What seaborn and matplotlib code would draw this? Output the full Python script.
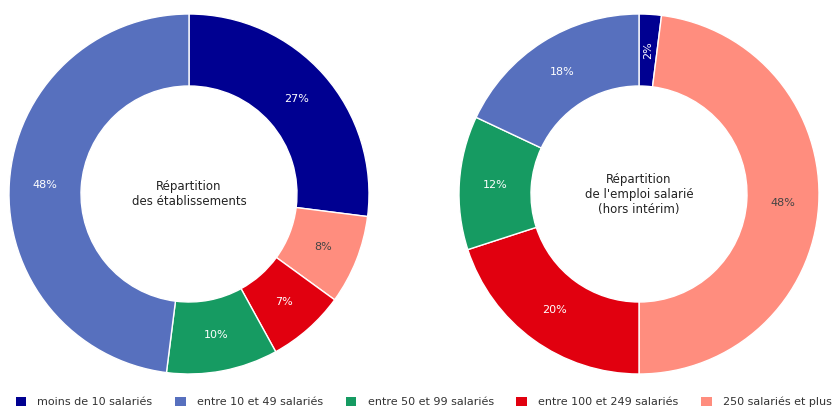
import numpy as np
import pandas as pd

import seaborn as sns
import matplotlib
import matplotlib.pyplot as plt
from matplotlib.patches import Patch

# data
categories = ['moins de 10 salariés', 'entre 10 et 49 salariés', 'entre 50 et 99 salariés',
              'entre 100 et 249 salariés', '250 salariés et plus']
etablissements = [27, 48, 10, 7, 8]
emploi = [2, 18, 12, 20, 48]
titles = ['Répartition\ndes établissements', 'Répartition\nde l\'emploi salarié\n(hors intérim)']

sns.set_style('white')
plt.rcParams['font.family'] = ['DejaVu Sans']

palette = ['#000091', '#5770BE', '#169B62', '#E1000F', '#FF8D7E']
text_colors = ['white', 'white', 'white', 'white', '#444444']

# wedge order clockwise from top: dark blue, salmon, red, green, blue
order = [0, 4, 3, 2, 1]

fig = plt.figure(figsize=(8.34, 4.11), dpi=100)
W, H = 834, 411
axes_pos = [[9 / W, 37 / H, 360 / W, 360 / H], [459 / W, 37 / H, 360 / W, 360 / H]]

for pos, values, title in zip(axes_pos, [etablissements, emploi], titles):
    ax = fig.add_axes(pos)
    vals = [values[i] for i in order]
    cols = [palette[i] for i in order]
    wedges, texts, autotexts = ax.pie(vals, colors=cols, startangle=90, counterclock=False,
                                      autopct='%d%%', pctdistance=0.8,
                                      wedgeprops=dict(width=0.4, edgecolor='white', linewidth=1),
                                      textprops=dict(fontsize=8))
    for t, i, v in zip(autotexts, order, vals):
        t.set_color(text_colors[i])
        if v < 4:
            t.set_rotation(90)
    ax.text(0, 0, title, ha='center', va='center', fontsize=8.5, color='#222222')
    ax.set_xlim(-1, 1)
    ax.set_ylim(-1, 1)
    ax.set_aspect('equal')
    ax.axis('off')

handles = [Patch(facecolor=c, edgecolor='none') for c in palette]
fig.legend(handles, categories, loc='lower center', bbox_to_anchor=(0.508, -0.015), ncol=5,
           frameon=False, fontsize=8, handlelength=0.95, handleheight=0.95,
           handletextpad=1.0, columnspacing=2.05, labelcolor='#333333')

plt.savefig('out.png', dpi=100)
